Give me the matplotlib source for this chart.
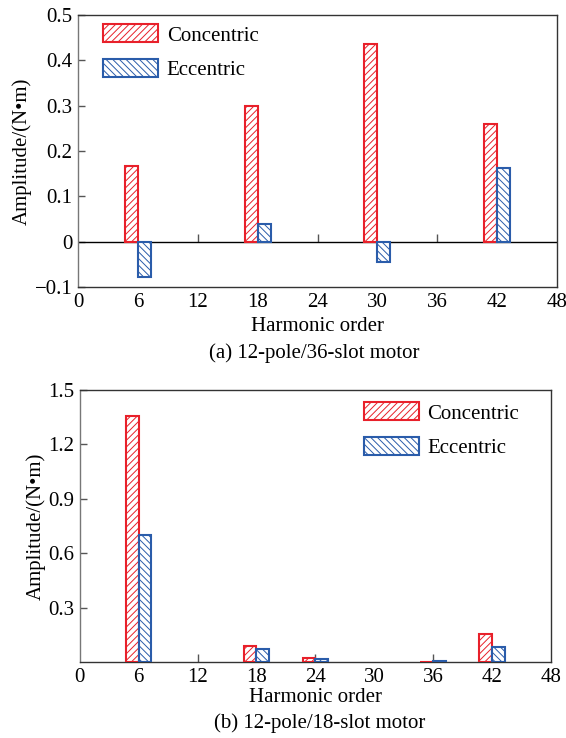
import numpy as np
import matplotlib
matplotlib.use("Agg")
import matplotlib.pyplot as plt

plt.rcParams['font.family'] = ['Liberation Serif', 'DejaVu Serif']
plt.rcParams['hatch.linewidth'] = 0.7

# (a) 12-pole/36-slot motor
orders_a = [6, 18, 30, 42]
concentric_a = [0.167, 0.298, 0.435, 0.260]
eccentric_a = [-0.078, 0.040, -0.045, 0.163]

# (b) 12-pole/18-slot motor
orders_b = [6, 18, 24, 36, 42]
concentric_b = [1.355, 0.090, 0.020, 0.0, 0.155]
eccentric_b = [0.700, 0.070, 0.015, 0.003, 0.080]

xticks = [0, 6, 12, 18, 24, 30, 36, 42, 48]
red = '#e8202a'
blue = '#2a5caa'
bar_w = 1.3
fs = 15


def draw(ax, orders, conc, ecc, ylim, yticks, ylabels, zero_frac, legend_loc, xlabelpad):
    ax.bar(orders, conc, width=-bar_w, align='edge', facecolor='white',
           edgecolor=red, hatch='/////', linewidth=1.5, label='Concentric', zorder=3)
    ax.bar(orders, ecc, width=bar_w, align='edge', facecolor='white',
           edgecolor=blue, hatch='\\\\\\\\\\', linewidth=1.5, label='Eccentric', zorder=3)
    ax.set_xlim(0, 48)
    ax.set_ylim(*ylim)
    ax.set_xticks(xticks)
    ax.set_xticklabels([str(t) for t in xticks], fontsize=fs)
    ax.tick_params(axis='x', length=0, pad=4)
    ax.set_yticks(yticks)
    ax.set_yticklabels(ylabels, fontsize=fs)
    ax.tick_params(axis='y', direction='in', length=5, width=1, color='#555555', pad=4)
    for s in ax.spines.values():
        s.set_linewidth(1.0)
        s.set_color('#333333')
    ax.spines['left'].set_color('#777777')
    # tick marks along the zero line
    sec = ax.secondary_xaxis(zero_frac)
    sec.set_xticks([12, 24, 36])
    sec.tick_params(direction='in', length=6, width=1, color='#555555')
    sec.set_xticklabels([])
    sec.spines['top'].set_visible(False)
    sec.spines['bottom'].set_visible(False)
    ax.set_xlabel('Harmonic order', fontsize=fs, labelpad=xlabelpad)
    ax.set_ylabel('Amplitude/(N\u2022m)', fontsize=fs, labelpad=2)
    ax.legend(loc=legend_loc, frameon=False, fontsize=fs, handlelength=2.65,
              handleheight=0.95, handletextpad=0.4, labelspacing=0.65,
              borderaxespad=0.0)


fig = plt.figure(figsize=(5.66, 7.38), dpi=100)

ax1 = fig.add_axes([0.138, 0.611, 0.846, 0.369])
draw(ax1, orders_a, concentric_a, eccentric_a, (-0.1, 0.5),
     [-0.1, 0, 0.1, 0.2, 0.3, 0.4, 0.5],
     ['\u22120.1', '0', '0.1', '0.2', '0.3', '0.4', '0.5'], 1 / 6, 'upper left', 4)
ax1.axhline(0, color='black', linewidth=1.0, zorder=2)
ax1.legend_.set_bbox_to_anchor((0.035, 0.995))
fig.text(0.555, 0.522, '(a) 12-pole/36-slot motor', ha='center', va='center', fontsize=fs)

ax2 = fig.add_axes([0.141, 0.103, 0.832, 0.3686])
draw(ax2, orders_b, concentric_b, eccentric_b, (0, 1.5),
     [0.3, 0.6, 0.9, 1.2, 1.5], ['0.3', '0.6', '0.9', '1.2', '1.5'], 0.0, 'upper right', 1)
ax2.legend_.set_bbox_to_anchor((0.95, 0.985))
fig.text(0.565, 0.02, '(b) 12-pole/18-slot motor', ha='center', va='center', fontsize=fs)

fig.savefig('out.png', dpi=100, facecolor='white')
